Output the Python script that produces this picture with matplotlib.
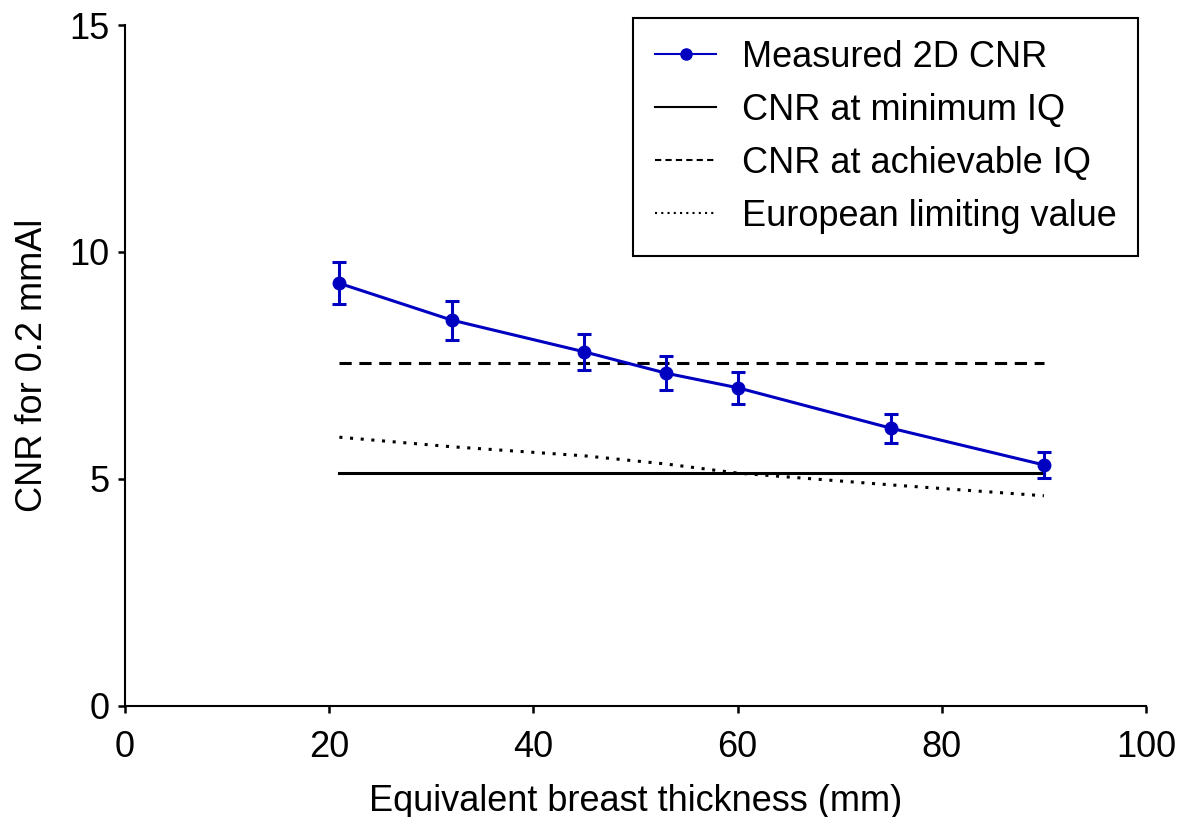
import matplotlib.pyplot as plt
from matplotlib.lines import Line2D

plt.rcParams['font.family'] = ['Liberation Sans', 'DejaVu Sans']

# 데이터
thickness = [21, 32, 45, 53, 60, 75, 90]
cnr = [9.31, 8.50, 7.80, 7.33, 7.01, 6.12, 5.31]
cnr_err = [0.46, 0.43, 0.40, 0.37, 0.35, 0.32, 0.28]
limit_min = [5.13] * 7
limit_achievable = [7.55] * 7
limit_european = [5.92, 5.71, 5.51, 5.33, 5.13, 4.87, 4.63]

blue = '#0000C0'
fs = 26

fig = plt.figure(figsize=(11.81, 8.17), dpi=100)
ax = fig.add_axes([0.1058, 0.1359, 0.8646, 0.8335])

ax.plot(thickness, limit_min, color='black', lw=2.2)
ax.plot(thickness, limit_achievable, color='black', lw=2.2, ls=(0, (4, 2.5)))
ax.plot(thickness, limit_european, color='black', lw=2.2, ls=(0, (1, 2.5)))
ax.errorbar(thickness, cnr, yerr=cnr_err, color=blue, lw=2.2, marker='o',
            markersize=9, capsize=5, capthick=2.2, elinewidth=2.2, zorder=5)

ax.set_xlim(0, 100)
ax.set_ylim(0, 15)
ax.set_xticks([0, 20, 40, 60, 80, 100])
ax.set_yticks([0, 5, 10, 15])
ax.spines['top'].set_visible(False)
ax.spines['right'].set_visible(False)
ax.spines['left'].set_linewidth(1.5)
ax.spines['bottom'].set_linewidth(1.5)
ax.tick_params(direction='out', length=5, width=1.8, labelsize=fs)
ax.tick_params(axis='x', pad=12)
ax.tick_params(axis='y', pad=6)

ax.set_xlabel('Equivalent breast thickness (mm)', fontsize=fs, labelpad=14)
ax.set_ylabel('CNR for 0.2 mmAl', fontsize=fs, labelpad=14)

handles = [
    Line2D([], [], color=blue, lw=1.5, marker='o', markersize=8),
    Line2D([], [], color='black', lw=1.5),
    Line2D([], [], color='black', lw=1.5, ls=(0, (3, 2))),
    Line2D([], [], color='black', lw=1.5, ls=(0, (1, 2))),
]
labels = ['Measured 2D CNR', 'CNR at minimum IQ', 'CNR at achievable IQ',
          'European limiting value']
leg = ax.legend(handles, labels, loc='upper right', fontsize=fs,
                bbox_to_anchor=(1138 / 1181, 1 - 18 / 817),
                bbox_transform=fig.transFigure, fancybox=False,
                edgecolor='black', framealpha=1, handlelength=1.7,
                handletextpad=0.7, labelspacing=0.5, borderpad=0.6,
                borderaxespad=0)
leg.get_frame().set_linewidth(1.5)

fig.savefig('out.png', dpi=100)
